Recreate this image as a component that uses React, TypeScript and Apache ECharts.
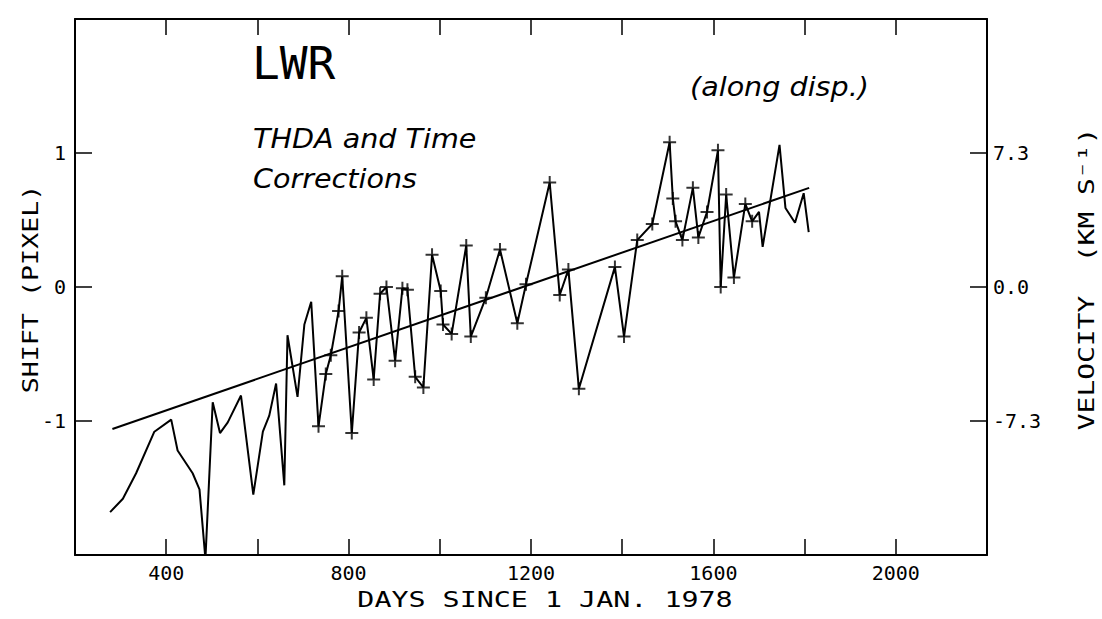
import React, { useEffect, useRef } from 'react';
import * as echarts from 'echarts';

// Data
const shiftDays = [
  277, 305, 334, 374, 411, 425, 458, 473, 486, 502, 518, 535, 564, 591, 612, 626, 641, 659, 666, 688,
  703, 718, 734, 750, 761, 778, 786, 807, 823, 839, 855, 869, 883, 902, 918, 929, 946, 964, 983, 1002,
  1007, 1026, 1058, 1068, 1101, 1132, 1170, 1189, 1241, 1263, 1282, 1305, 1384, 1404, 1433, 1466, 1504, 1511, 1517, 1532,
  1555, 1567, 1586, 1610, 1616, 1628, 1645, 1670, 1685, 1700, 1708, 1745, 1758, 1779, 1798, 1809,
];
const shiftValues = [
  -1.68, -1.58, -1.39, -1.08, -0.99, -1.22, -1.39, -1.51, -2.03, -0.86, -1.09, -1.01, -0.81, -1.55, -1.08, -0.96, -0.72, -1.48, -0.36, -0.82,
  -0.28, -0.11, -1.04, -0.65, -0.51, -0.18, 0.08, -1.09, -0.34, -0.23, -0.69, -0.05, 0.0, -0.55, -0.01, -0.02, -0.67, -0.75, 0.24, -0.03,
  -0.28, -0.35, 0.31, -0.37, -0.08, 0.28, -0.27, 0.02, 0.78, -0.06, 0.13, -0.76, 0.15, -0.37, 0.35, 0.47, 1.08, 0.66, 0.49, 0.35,
  0.74, 0.37, 0.56, 1.02, 0.0, 0.69, 0.07, 0.62, 0.49, 0.56, 0.3, 1.06, 0.59, 0.48, 0.7, 0.41,
];
const crossFromDay = 730;
const crossToDay = 1690;
const trendDays = [282, 1810];
const trendValues = [-1.06, 0.74];
const xTickLabels = [400, 800, 1200, 1600, 2000];
const leftTickLabels = [-1, 0, 1];
const velocityPerPixel = 7.3;

const MONO = "'DejaVu Sans Mono', 'Liberation Mono', monospace";
const HAND = "'DejaVu Sans', sans-serif";

export default function App() {
  const ref = useRef<HTMLDivElement>(null);
  useEffect(() => {
    document.body.style.margin = '0';
    const chart = echarts.init(ref.current!, null, { renderer: 'svg' });
    const lineData = shiftDays.map((d, i) => [d, shiftValues[i]]);
    const crossData = lineData.filter((p) => p[0] >= crossFromDay && p[0] <= crossToDay);
    const trendData = trendDays.map((d, i) => [d, trendValues[i]]);
    const axisLine = { show: true, onZero: false, lineStyle: { color: '#000', width: 2 } };
    const axisTick = { show: true, inside: true, length: 16, lineStyle: { color: '#000', width: 1.5 } };
    const labelBase = { color: '#000', fontFamily: MONO, fontSize: 20 };
    const txt = (
      text: string, x: number, y: number, font: string, size: number,
      opts: { align?: string; rotation?: number; scaleX?: number; italic?: boolean } = {}
    ) => ({
      type: 'text',
      x, y,
      rotation: opts.rotation || 0,
      scaleX: opts.scaleX || 1,
      silent: true,
      style: {
        text,
        fill: '#000',
        fontFamily: font,
        fontSize: size,
        fontStyle: opts.italic ? 'italic' : 'normal',
        align: opts.align || 'center',
        verticalAlign: 'middle',
        textAlign: opts.align || 'center',
        textVerticalAlign: 'middle',
      },
    });
    chart.setOption({
      animation: false,
      backgroundColor: '#fff',
      grid: { left: 75, right: 115, top: 19, bottom: 64, containLabel: false },
      xAxis: [
        {
          type: 'value', position: 'bottom', min: 200, max: 2200, interval: 200,
          axisLine, axisTick, splitLine: { show: false },
          axisLabel: {
            ...labelBase, margin: 8,
            formatter: (v: number) => (xTickLabels.includes(v) ? String(v) : ''),
          },
        },
        {
          type: 'value', position: 'top', min: 200, max: 2200, interval: 200,
          axisLine, axisTick, splitLine: { show: false }, axisLabel: { show: false },
        },
      ],
      yAxis: [
        {
          type: 'value', position: 'left', min: -2, max: 2, interval: 1,
          axisLine, axisTick: { ...axisTick, length: 17 }, splitLine: { show: false },
          axisLabel: {
            ...labelBase, margin: 9,
            formatter: (v: number) => (leftTickLabels.includes(v) ? String(v) : ''),
          },
        },
        {
          type: 'value', position: 'right', min: -2 * velocityPerPixel, max: 2 * velocityPerPixel,
          interval: velocityPerPixel,
          axisLine, axisTick: { ...axisTick, length: 17 }, splitLine: { show: false },
          axisLabel: {
            ...labelBase, margin: 6,
            formatter: (v: number) =>
              Math.abs(v) > 1.5 * velocityPerPixel ? '' : Math.abs(v) < 1e-6 ? '0.0' : v.toFixed(1),
          },
        },
      ],
      series: [
        {
          type: 'line', xAxisIndex: 0, yAxisIndex: 0, data: lineData,
          showSymbol: false, symbol: 'none', lineStyle: { color: '#000', width: 2 }, z: 3,
        },
        {
          type: 'line', xAxisIndex: 0, yAxisIndex: 0, data: trendData,
          showSymbol: false, symbol: 'none', lineStyle: { color: '#000', width: 2 }, z: 2,
        },
        {
          type: 'scatter', xAxisIndex: 0, yAxisIndex: 0, data: crossData,
          symbol: 'path://M0,6L12,6M6,0L6,12', symbolSize: 13,
          itemStyle: { color: 'rgba(0,0,0,0)', borderColor: '#000', borderWidth: 2 }, z: 4,
        },
      ],
      graphic: [
        txt('DAYS SINCE 1 JAN. 1978', 545, 600, MONO, 21, { scaleX: 1.35 }),
        txt('SHIFT (PIXEL)', 31, 289, MONO, 21, { rotation: Math.PI / 2, scaleX: 1.27 }),
        txt('VELOCITY  (KM S\u207B\u00B9)', 1087, 279, MONO, 21, { rotation: Math.PI / 2, scaleX: 1.33 }),
        txt('LWR', 252, 64, MONO, 44, { align: 'left', scaleX: 1.05 }),
        txt('THDA and Time', 253, 139, HAND, 26, { align: 'left', italic: true, scaleX: 1.1 }),
        txt('Corrections', 253, 179, HAND, 26, { align: 'left', italic: true, scaleX: 1.1 }),
        txt('(along disp.)', 690, 87, HAND, 26, { align: 'left', italic: true, scaleX: 1.1 }),
      ],
    });
    return () => chart.dispose();
  }, []);
  return (
    <div
      ref={ref}
      style={{ position: 'fixed', left: 0, top: 0, width: 1102, height: 619, background: '#fff' }}
    />
  );
}
